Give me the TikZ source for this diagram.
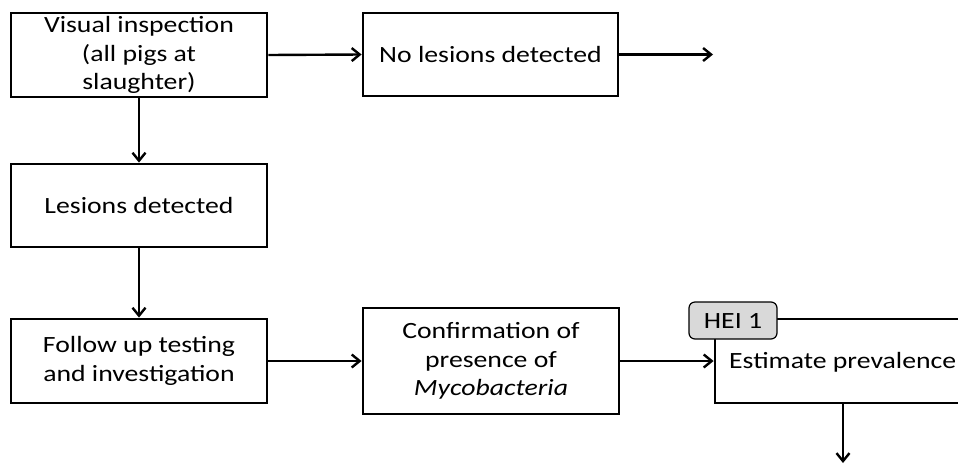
\documentclass[tikz,border=0pt]{standalone}
\usepackage{fontspec}
\setmainfont[FakeStretch=1.19]{Carlito}
\usetikzlibrary{arrows.meta}
\tikzset{
  box/.style={draw=black, line width=2.8pt, align=center, inner sep=0pt,
    font=\fontsize{23.3}{28.5}\selectfont},
  conn/.style={line width=2.4pt, -{Straight Barb[length=8pt,width=13pt,line width=2.4pt]}},
  tag/.style={draw=black, line width=1.2pt, fill=black!15, rounded corners=6pt,
    minimum width=88pt, minimum height=37pt, inner sep=0pt,
    font=\fontsize{23.3}{28.5}\selectfont}
}
\begin{document}
\begin{tikzpicture}[x=1pt,y=-1pt]
\clip (0,0) rectangle (958,464);
\fill[white] (0,0) rectangle (958,464);
\node[box, minimum width=256pt, minimum height=84pt] (vis) at (139,55)
  {Visual inspection\\(all pigs at\\slaughter)};
\node[box, minimum width=255pt, minimum height=83pt] (nol) at (490.5,54.5)
  {No lesions detected};
\coordinate (e1) at (713,54.5);
\node[box, minimum width=256pt, minimum height=83pt] (les) at (139,205.5)
  {Lesions detected};
\node[box, minimum width=256pt, minimum height=84pt] (fol) at (139,361)
  {Follow up testing\\and investigation};
\node[box, minimum width=256pt, minimum height=106pt] (conf) at (491,361)
  {Confirmation of\\presence of\\\textit{Mycobacteria}};
\node[box, minimum width=400pt, minimum height=84pt] (est) at (915,361) {};
\node[anchor=west, inner sep=0pt, font=\fontsize{23.3}{28.5}\selectfont] (estt) at (729,362)
  {Estimate prevalence};
\node[tag] (hei) at (733,320.5) {HEI 1};
\coordinate (e2) at (843,463);
\draw[conn] (vis.east) -- (nol.west);
\draw[conn] (nol.east) -- (e1);
\draw[conn] (vis.south) -- (les.north);
\draw[conn] (les.south) -- (fol.north);
\draw[conn] (fol.east) -- (conf.west);
\draw[conn] (conf.east) -- (est.west);
\draw[conn] (est.south -| e2) -- (e2);
\end{tikzpicture}
\end{document}
